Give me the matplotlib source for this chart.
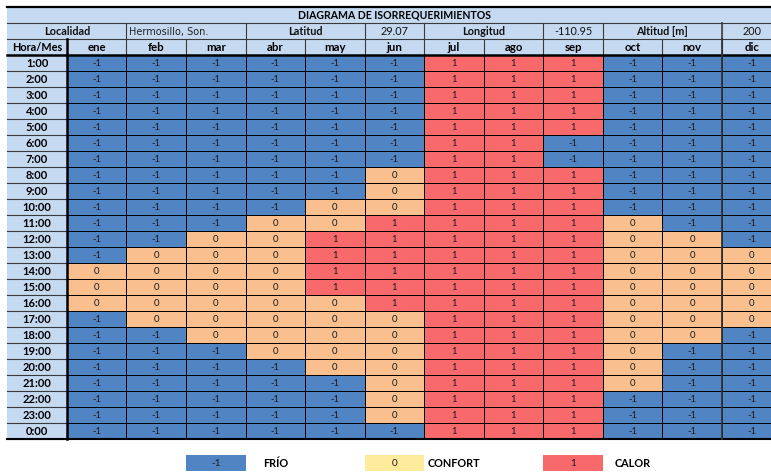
import numpy as np
import matplotlib.pyplot as plt
from matplotlib.colors import ListedColormap, BoundaryNorm
from matplotlib.patches import Rectangle

plt.rcParams['font.family'] = ['Lato', 'DejaVu Sans']

titulo = 'DIAGRAMA DE ISORREQUERIMIENTOS'
meses = ['ene', 'feb', 'mar', 'abr', 'may', 'jun', 'jul', 'ago', 'sep', 'oct', 'nov', 'dic']
horas = ['1:00', '2:00', '3:00', '4:00', '5:00', '6:00', '7:00', '8:00', '9:00', '10:00',
         '11:00', '12:00', '13:00', '14:00', '15:00', '16:00', '17:00', '18:00', '19:00',
         '20:00', '21:00', '22:00', '23:00', '0:00']
# fila de datos del sitio: texto, columnas que ocupa, negrita
sitio_textos = ['Localidad', 'Hermosillo, Son.', 'Latitud', '29.07', 'Longitud', '-110.95', 'Altitud [m]', '200']
sitio_spans = [2, 2, 2, 1, 2, 1, 2, 1]
sitio_bold = [True, False, True, False, True, False, True, False]

valores = np.array([
    [-1, -1, -1, -1, -1, -1, 1, 1, 1, -1, -1, -1],
    [-1, -1, -1, -1, -1, -1, 1, 1, 1, -1, -1, -1],
    [-1, -1, -1, -1, -1, -1, 1, 1, 1, -1, -1, -1],
    [-1, -1, -1, -1, -1, -1, 1, 1, 1, -1, -1, -1],
    [-1, -1, -1, -1, -1, -1, 1, 1, 1, -1, -1, -1],
    [-1, -1, -1, -1, -1, -1, 1, 1, -1, -1, -1, -1],
    [-1, -1, -1, -1, -1, -1, 1, 1, -1, -1, -1, -1],
    [-1, -1, -1, -1, -1, 0, 1, 1, 1, -1, -1, -1],
    [-1, -1, -1, -1, -1, 0, 1, 1, 1, -1, -1, -1],
    [-1, -1, -1, -1, 0, 0, 1, 1, 1, -1, -1, -1],
    [-1, -1, -1, 0, 0, 1, 1, 1, 1, 0, -1, -1],
    [-1, -1, 0, 0, 1, 1, 1, 1, 1, 0, 0, -1],
    [-1, 0, 0, 0, 1, 1, 1, 1, 1, 0, 0, 0],
    [0, 0, 0, 0, 1, 1, 1, 1, 1, 0, 0, 0],
    [0, 0, 0, 0, 1, 1, 1, 1, 1, 0, 0, 0],
    [0, 0, 0, 0, 0, 1, 1, 1, 1, 0, 0, 0],
    [-1, 0, 0, 0, 0, 0, 1, 1, 1, 0, 0, 0],
    [-1, -1, 0, 0, 0, 0, 1, 1, 1, 0, 0, -1],
    [-1, -1, -1, 0, 0, 0, 1, 1, 1, 0, -1, -1],
    [-1, -1, -1, -1, 0, 0, 1, 1, 1, 0, -1, -1],
    [-1, -1, -1, -1, -1, 0, 1, 1, 1, 0, -1, -1],
    [-1, -1, -1, -1, -1, 0, 1, 1, 1, -1, -1, -1],
    [-1, -1, -1, -1, -1, 0, 1, 1, 1, -1, -1, -1],
    [-1, -1, -1, -1, -1, -1, 1, 1, 1, -1, -1, -1],
])
leyenda_valores = [-1, 0, 1]
leyenda_textos = ['FRÍO', 'CONFORT', 'CALOR']
leyenda_meses = ['mar', 'jun', 'sep']

azul = '#5084C2'
naranja = '#FABF8F'
rojo = '#F8696B'
amarillo = '#FFEB9C'
cabecera = '#C5D9F1'
linea = '#3a3a3a'

# geometria de la hoja (pixeles)
x0, cw = 7.3, 59.55
y0, rh = 7.0, 16.0
xe = x0 + cw * np.arange(14)  # bordes de columnas
def fila(i):
    return y0 + rh * i

fig = plt.figure(figsize=(7.71, 4.73), dpi=100)
ax = fig.add_axes([0, 0, 1, 1])
ax.set_xlim(0, 771)
ax.set_ylim(473, 0)
ax.axis('off')

# fondo de cabecera
ax.add_patch(Rectangle((x0, fila(0)), xe[-1] - x0, 3 * rh, facecolor=cabecera, edgecolor='none'))
ax.add_patch(Rectangle((x0, fila(3)), cw, 24 * rh, facecolor=cabecera, edgecolor='none'))

# titulo
ax.text((x0 + xe[-1]) / 2, fila(0.5) + 0.5, titulo, ha='center', va='center', fontsize=7.6, fontweight='bold')

# fila de sitio
c = 0
for txt, sp, b in zip(sitio_textos, sitio_spans, sitio_bold):
    xa, xb = xe[c], xe[c + sp]
    if txt.startswith('Hermosillo'):
        ax.text(xa + 2.5, fila(1.5) + 0.5, txt, ha='left', va='center', fontsize=7, family='DejaVu Sans', color='#222')
    else:
        ax.text((xa + xb) / 2, fila(1.5) + 0.5, txt, ha='center', va='center', fontsize=7.8,
                fontweight='bold' if b else 'normal', color='#111')
    if c > 0:
        ax.plot([xa, xa], [fila(1), fila(2)], color=linea, lw=0.8)
    c += sp
ax.plot([xe[12], xe[12]], [fila(1), fila(2)], color='#555', lw=1.4)

# fila de meses
ax.text(x0 + cw / 2, fila(2.5) + 0.5, 'Hora/Mes', ha='center', va='center', fontsize=7.8, fontweight='bold')
for j, m in enumerate(meses):
    ax.text((xe[j + 1] + xe[j + 2]) / 2, fila(2.5) + 0.5, m, ha='center', va='center', fontsize=8.2, fontweight='bold')
    if j > 0:
        ax.plot([xe[j + 1], xe[j + 1]], [fila(2), fila(3)], color=linea, lw=0.8)

# celdas de datos
cmap = ListedColormap([azul, naranja, rojo])
norm = BoundaryNorm([-1.5, -0.5, 0.5, 1.5], cmap.N)
ye = fila(np.arange(3, 28))
ax.pcolormesh(xe[1:], ye, valores, cmap=cmap, norm=norm, edgecolors='black', linewidth=0.7)
for r, h in enumerate(horas):
    ax.text(x0 + cw / 2, fila(r + 3.5) + 0.5, h, ha='center', va='center', fontsize=8, fontweight='bold')
    ax.plot([x0, xe[1]], [fila(r + 4), fila(r + 4)], color=linea, lw=0.8)
    for j in range(12):
        ax.text((xe[j + 1] + xe[j + 2]) / 2, fila(r + 3.5) + 0.5, str(valores[r, j]),
                ha='center', va='center', fontsize=6.8, color='#1a1a1a')

# lineas gruesas
ax.plot([x0, xe[-1]], [fila(0), fila(0)], color='black', lw=1.6)
ax.plot([x0, xe[-1]], [fila(1), fila(1)], color=linea, lw=0.8)
ax.plot([x0, xe[-1]], [fila(2), fila(2)], color=linea, lw=0.8)
ax.plot([x0, xe[-1]], [fila(3), fila(3)], color='black', lw=1.8)
ax.plot([x0, xe[-1]], [fila(27), fila(27)], color='black', lw=1.5)
ax.plot([xe[1], xe[1]], [fila(2), fila(27)], color='black', lw=1.8)
ax.plot([xe[12], xe[12]], [fila(2), fila(27)], color='#333', lw=1.3)

# leyenda
for v, t, m in zip(leyenda_valores, leyenda_textos, leyenda_meses):
    j = meses.index(m) + 1
    color = amarillo if v == 0 else cmap(norm(v))
    ax.add_patch(Rectangle((xe[j], fila(28)), cw, rh, facecolor=color, edgecolor='none'))
    ax.text((xe[j] + xe[j + 1]) / 2, fila(28.5) + 0.5, str(v), ha='center', va='center', fontsize=7.2, color='#1a1a1a')
    ax.text((xe[j + 1] + xe[j + 2]) / 2, fila(28.5) + 0.5, t, ha='center', va='center', fontsize=7.8, fontweight='bold')

fig.savefig('out.png', dpi=100)
